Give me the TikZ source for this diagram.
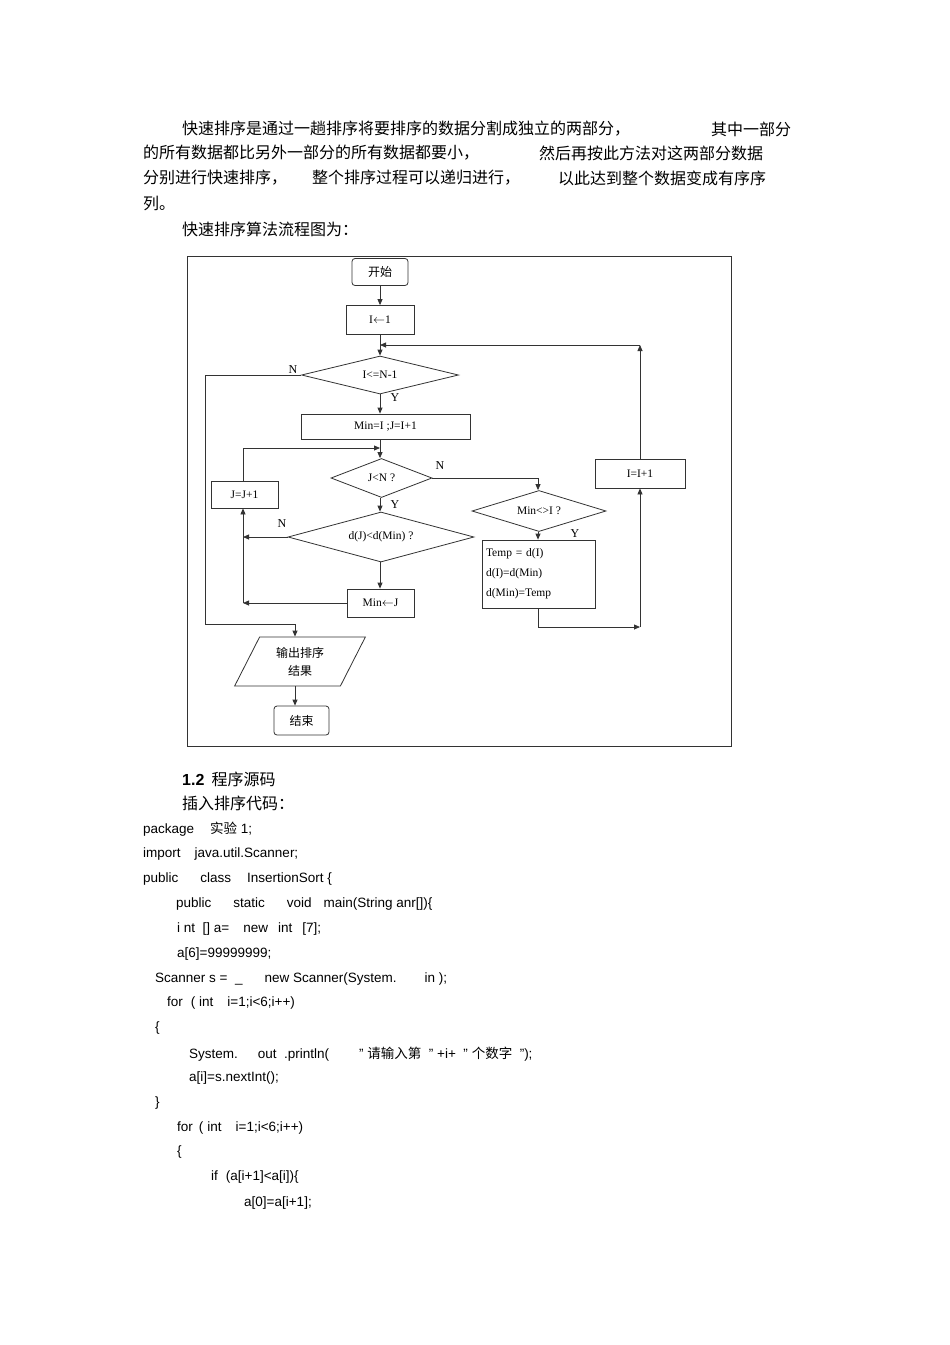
\documentclass[tikz,border=0pt]{standalone}
\usepackage{fontspec}
\setmainfont{Liberation Serif}
\setsansfont{Liberation Sans}
\newfontfamily\cjk{Noto Sans CJK SC}
\usetikzlibrary{shapes.geometric,arrows.meta}
\begin{document}
\begin{tikzpicture}[x=1pt,y=-1pt,
  box/.style={draw,thick,draw=black!80,inner sep=0pt,font=\fontsize{11.5}{13}\selectfont},
  rbox/.style={box,rounded corners=3pt},
  dia/.style={draw,thick,draw=black!80,diamond,aspect=3,inner sep=0pt,font=\fontsize{11.5}{13}\selectfont},
  ar/.style={thick,draw=black!80,-{Triangle[length=6pt,width=5pt]}},
  ln/.style={thick,draw=black!80},
  lab/.style={font=\fontsize{12}{13}\selectfont,inner sep=0pt},
  para/.style={anchor=west,inner sep=0pt,font=\cjk\fontsize{16}{18}\selectfont},
  code/.style={anchor=west,inner sep=0pt,font=\sffamily\fontsize{13.5}{15}\selectfont}]
\useasboundingbox (0,0) rectangle (950,1345);
\fill[white] (0,0) rectangle (950,1345);
% paragraph
\node[para] (p1a) at (182,129) {快速排序是通过一趟排序将要排序的数据分割成独立的两部分，};
\node[para] (p1b) at (711,129) {其中一部分};
\node[para] (p2a) at (143,153) {的所有数据都比另外一部分的所有数据都要小，};
\node[para] (p2b) at (539,153) {然后再按此方法对这两部分数据};
\node[para] (p3a) at (143,178) {分别进行快速排序，};
\node[para] (p3b) at (312,178) {整个排序过程可以递归进行，};
\node[para] (p3c) at (558,178) {以此达到整个数据变成有序序};
\node[para] (p4) at (143,203) {列。};
\node[para] (p5) at (182,229) {快速排序算法流程图为：};
\node[para] (h1) at (182,779) {{\sffamily\bfseries 1.2}\ \ 程序源码};
\node[para] (h2) at (182,803) {插入排序代码：};
% code
\node[code] (c1) at (143,829) {package\hspace{16pt}{\cjk 实验} 1;};
\node[code] (c2) at (143,854) {import\hspace{14pt}java.util.Scanner;};
\node[code] (c3) at (143,879) {public\hspace{22pt}class\hspace{16pt}InsertionSort \{};
\node[code] (c4) at (176,904) {public\hspace{22pt}static\hspace{22pt}void\hspace{12pt}main(String anr[])\{};
\node[code] (c5) at (177,929) {i nt\ \ [] a=\hspace{14pt}new\hspace{10pt}int\hspace{10pt}[7];};
\node[code] (c6) at (177,954) {a[6]=99999999;};
\node[code] (c7) at (155,979) {Scanner s =\ \ \_\hspace{22pt}new Scanner(System.\hspace{28pt}in\ );};
\node[code] (c8) at (167,1003) {for\hspace{8pt}( int\hspace{14pt}i=1;i<6;i++)};
\node[code] (c9) at (155,1028) {\{};
\node[code] (c10) at (189,1054) {System.\hspace{20pt}out\ \ .println(\hspace{30pt}" {\cjk 请输入第}\ \ " +i+\ \ " {\cjk 个数字}\ \ ");};
\node[code] (c11) at (189,1078) {a[i]=s.nextInt();};
\node[code] (c12) at (155,1103) {\}};
\node[code] (c13) at (177,1128) {for\hspace{6pt}(\hspace{4pt}int\hspace{14pt}i=1;i<6;i++)};
\node[code] (c14) at (177,1152) {\{};
\node[code] (c15) at (211,1177) {if\hspace{8pt}(a[i+1]<a[i])\{};
\node[code] (c16) at (244,1203) {a[0]=a[i+1];};
% frame
\draw[thick,draw=black!80] (187,256) rectangle (731,746);
% nodes
\node[rbox,minimum width=56pt,minimum height=27pt,font=\cjk\fontsize{12}{13}\selectfont] (start) at (380,272) {开始};
\node[box,minimum width=68pt,minimum height=29pt] (i1) at (380,320) {I$\leftarrow$1};
\node[dia,minimum width=157pt,minimum height=38pt] (d1) at (380,375) {I<=N-1};
\node[box,minimum width=169pt,minimum height=25pt] (mi) at (385.5,426.5) {Min=I ;J=I+1};
\node[dia,minimum width=101pt,minimum height=39pt] (d2) at (381.5,478) {J<N ?};
\node[box,minimum width=67pt,minimum height=27pt] (jj) at (244.5,494.5) {J=J+1};
\node[dia,minimum width=186pt,minimum height=50pt] (d3) at (381,537) {d(J)<d(Min) ?};
\node[box,minimum width=67pt,minimum height=28pt] (mj) at (380.5,603) {Min$\leftarrow$J};
\node[dia,minimum width=134pt,minimum height=41pt] (d4) at (539,511) {Min<>I ?};
\node[box,minimum width=113pt,minimum height=68pt,align=left,text width=105pt,font=\fontsize{11.5}{20}\selectfont] (sw) at (538.5,574) {Temp = d(I)\\d(I)=d(Min)\\d(Min)=Temp};
\node[box,minimum width=90pt,minimum height=29pt] (ii) at (640,473.5) {I=I+1};
\node[trapezium,trapezium left angle=63,trapezium right angle=117,draw,thick,draw=black!80,minimum height=49pt,minimum width=100pt,inner sep=0pt,align=center,font=\cjk\fontsize{12}{18}\selectfont] (out) at (300,661.5) {输出排序\\结果};
\node[rbox,minimum width=55pt,minimum height=29pt,font=\cjk\fontsize{12}{13}\selectfont] (end) at (301.5,720.5) {结束};
% junction coordinates
\coordinate (j1) at (380,345);
\coordinate (j2) at (380,448);
% connectors
\draw[ar] (start) -- (i1);
\draw[ln] (i1) -- (j1);
\draw[ar] (j1) -- (d1.north);
\draw[ar] (d1.south) -- (mi.north -| d1.south);
\draw[ln] (mi.south -| d1.south) -- (j2);
\draw[ar] (j2) -- (d2.north -| j2);
\draw[ar] (d2.south -| j2) -- (d3.north -| j2);
\draw[ar] (d3.south -| j2) -- (mj.north -| j2);
\draw[ar] (d3.west) -- (243,537);
\draw[ar] (243,537) -- (jj.south -| 243,0);
\draw[ar] (mj.west) -- (243,603);
\draw[ln] (243,603) -- (243,537);
\draw[ln] (jj.north -| 243,0) -- (243,448);
\draw[ar] (243,448) -- (j2);
\draw[ln] (d2.east) -- (538,478);
\draw[ar] (538,478) -- (d4.north -| 538,0);
\draw[ar] (d4.south -| 538,0) -- (sw.north -| 538,0);
\draw[ln] (sw.south -| 538,0) -- (538,627);
\draw[ar] (538,627) -- (640,627);
\draw[ar] (640,627) -- (ii.south);
\draw[ar] (ii.north) -- (640,345);
\draw[ar] (640,345) -- (j1);
\draw[ln] (d1.west) -- (205,375) -- (205,624) -- (295,624);
\draw[ar] (295,624) -- (out.north -| 295,0);
\draw[ar] (out.south -| 295,0) -- (end.north -| 295,0);
% labels
\node[lab] (n1) at (293,370) {N};
\node[lab] (y1) at (395,398) {Y};
\node[lab] (n2) at (440,466) {N};
\node[lab] (y2) at (395,505) {Y};
\node[lab] (n3) at (282,524) {N};
\node[lab] (y3) at (575,534) {Y};
\end{tikzpicture}
\end{document}
